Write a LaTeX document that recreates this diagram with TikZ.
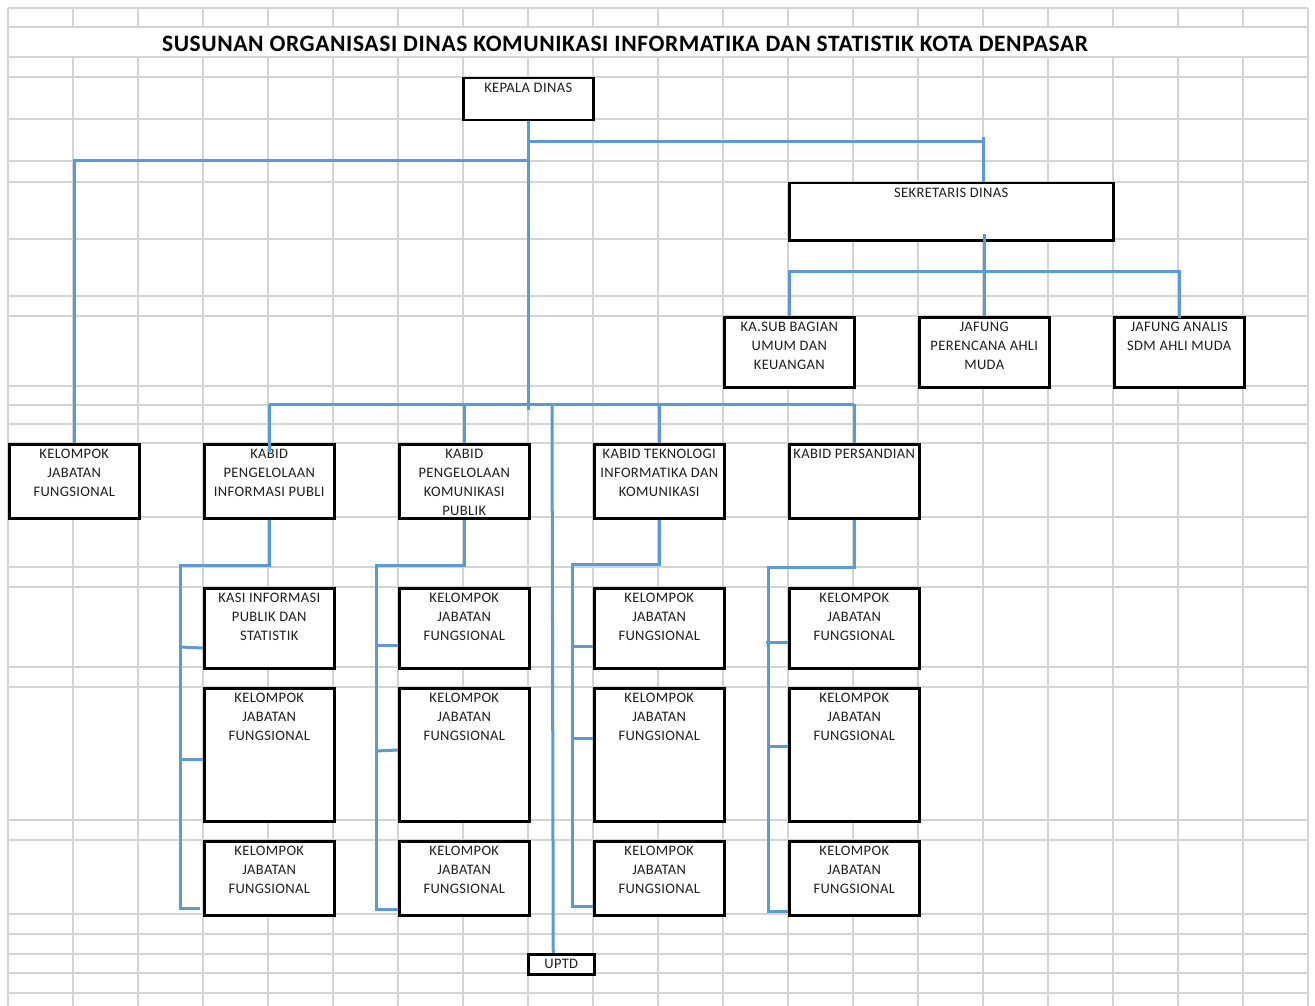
\documentclass[tikz,border=0pt]{standalone}
\usepackage{fontspec}
\setmainfont{Carlito}
\newfontfamily\boxfont[LetterSpace=2.5]{Carlito}
\newfontfamily\titlefont[LetterSpace=2.5]{Carlito}
\definecolor{lblue}{RGB}{91,155,213}
\definecolor{gridc}{RGB}{212,212,212}
\definecolor{txtc}{RGB}{30,30,30}
\newcommand\orgbox[6]{%
  \node[orgb, minimum width=#4pt, minimum height=#5pt, anchor=north west] (#1) at (#2,#3) {};
  \node[orgt, anchor=north] (#1t) at ([yshift=-6pt]#1.north) {#6};
}
\begin{document}
\begin{tikzpicture}[x=1pt,y=-1pt,
  gridl/.style={draw=gridc, line width=1.4pt},
  orgb/.style={draw=black, line width=2.5pt, fill=white, rectangle, inner sep=0pt},
  orgt/.style={inner sep=0pt, align=center, text=txtc, font=\boxfont\fontsize{14.5}{19}\selectfont},
  conn/.style={draw=lblue, line width=3pt}]
\useasboundingbox (0,0) rectangle (1315,1006);
\fill[white] (0,0) rectangle (1315,1006);
% spreadsheet grid
\foreach \gx in {73,138,...,1243} \draw[gridl] (\gx,8) -- (\gx,27) (\gx,57) -- (\gx,1006);
\draw[gridl] (8,8) -- (8,1006);
\draw[gridl] (1308,8) -- (1308,1006);
\foreach \gy in {8,27,57,77,119,161,182,239,296,316,386,405,424,443,517,567,587,667,687,820,840,914,934,954,973,993}
  \draw[gridl] (8,\gy) -- (1308,\gy);
% title
\node[anchor=base, inner sep=0pt, font=\titlefont\fontsize{23.5}{27}\selectfont\bfseries, text=black] (title) at (625,51.5)
  {SUSUNAN ORGANISASI DINAS KOMUNIKASI INFORMATIKA DAN STATISTIK KOTA DENPASAR};
% boxes
\orgbox{kepala}{462}{77}{130}{42}{KEPALA DINAS}
\orgbox{sekr}{788}{182}{324}{57}{SEKRETARIS DINAS}
\orgbox{kasub}{723}{316}{130}{70}{KA.SUB BAGIAN\\UMUM DAN\\KEUANGAN}
\orgbox{jafp}{918}{316}{130}{70}{JAFUNG\\PERENCANA AHLI\\MUDA}
\orgbox{jafa}{1113}{316}{130}{70}{JAFUNG ANALIS\\SDM AHLI MUDA}
\orgbox{kjf}{8}{443}{130}{74}{KELOMPOK\\JABATAN\\FUNGSIONAL}
\orgbox{kba}{203}{443}{130}{74}{KABID\\PENGELOLAAN\\INFORMASI PUBLI}
\orgbox{kbb}{398}{443}{130}{74}{KABID\\PENGELOLAAN\\KOMUNIKASI\\PUBLIK}
\orgbox{kbc}{593}{443}{130}{74}{KABID TEKNOLOGI\\INFORMATIKA DAN\\KOMUNIKASI}
\orgbox{kbd}{788}{443}{130}{74}{KABID PERSANDIAN}
\orgbox{kasi}{203}{587}{130}{80}{KASI INFORMASI\\PUBLIK DAN\\STATISTIK}
\orgbox{ab}{203}{687}{130}{133}{KELOMPOK\\JABATAN\\FUNGSIONAL}
\orgbox{ac}{203}{840}{130}{74}{KELOMPOK\\JABATAN\\FUNGSIONAL}
\orgbox{ba}{398}{587}{130}{80}{KELOMPOK\\JABATAN\\FUNGSIONAL}
\orgbox{bb}{398}{687}{130}{133}{KELOMPOK\\JABATAN\\FUNGSIONAL}
\orgbox{bc}{398}{840}{130}{74}{KELOMPOK\\JABATAN\\FUNGSIONAL}
\orgbox{ca}{593}{587}{130}{80}{KELOMPOK\\JABATAN\\FUNGSIONAL}
\orgbox{cb}{593}{687}{130}{133}{KELOMPOK\\JABATAN\\FUNGSIONAL}
\orgbox{cc}{593}{840}{130}{74}{KELOMPOK\\JABATAN\\FUNGSIONAL}
\orgbox{da}{788}{587}{130}{80}{KELOMPOK\\JABATAN\\FUNGSIONAL}
\orgbox{db}{788}{687}{130}{133}{KELOMPOK\\JABATAN\\FUNGSIONAL}
\orgbox{dc}{788}{840}{130}{74}{KELOMPOK\\JABATAN\\FUNGSIONAL}
\orgbox{uptd}{527}{953}{66}{20}{UPTD}
% connectors: top level
\draw[conn] (kepala.south) -- (kepala.south |- 0,410);
\draw[conn] (530,161) -- (kjf.north |- 0,161) -- (kjf.north);
\draw[conn] (kepala.south |- 0,142) -- (983,142);
\draw[conn] (983,137) -- (983,182);
\draw[conn] (jafp.north |- 0,234) -- (jafp.north);
\draw[conn] (kasub.north) -- (kasub.north |- 0,271) -- (jafa.north |- 0,271) -- ([yshift=-2pt]jafa.north);
% second level bus
\draw[conn] (kba.north |- 0,404) -- (kbd.north |- 0,404);
\draw[conn] (kba.north |- 0,404) -- ([yshift=-9pt]kba.north);
\draw[conn] (kbb.north |- 0,404) -- (kbb.north);
\draw[conn] (kbc.north |- 0,404) -- (kbc.north);
\draw[conn] (kbd.north |- 0,404) -- (kbd.north);
\draw[conn] (552,404) -- ([xshift=-8pt]uptd.north);
% brackets column 1
\draw[conn] (kba.south) -- (kba.south |- 0,565) -- (180,565) -- (180,908) -- (200,908);
\draw[conn] (180,647) -- (kasi.west |- 0,648);
\draw[conn] (180,759) -- (ab.west |- 0,759);
% column 2
\draw[conn] (kbb.south) -- (kbb.south |- 0,565) -- (376,565) -- (376,909) -- (bc.west |- 0,909);
\draw[conn] (376,645) -- (ba.west |- 0,645);
\draw[conn] (376,751) -- (bb.west |- 0,750);
% column 3
\draw[conn] (kbc.south) -- (kbc.south |- 0,564) -- (572,564) -- (572,906) -- (cc.west |- 0,906);
\draw[conn] (572,646) -- (ca.west |- 0,646);
\draw[conn] (572,738) -- (cb.west |- 0,738);
% column 4
\draw[conn] (kbd.south) -- (kbd.south |- 0,567) -- (768,567) -- (768,911) -- (dc.west |- 0,911);
\draw[conn] (766,642) -- (da.west |- 0,642);
\draw[conn] (768,746) -- (db.west |- 0,746);
\end{tikzpicture}
\end{document}
